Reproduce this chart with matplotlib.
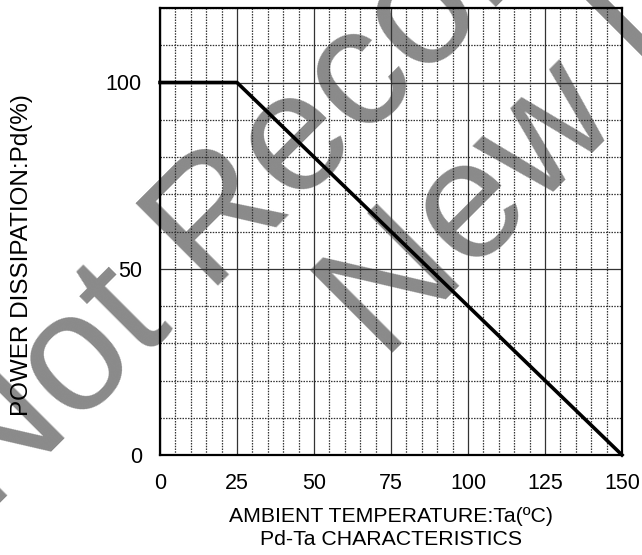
import numpy as np
import matplotlib
matplotlib.use('Agg')
import matplotlib.pyplot as plt
from matplotlib.ticker import MultipleLocator

plt.rcParams['font.family'] = ['Liberation Sans', 'DejaVu Sans']

# derating curve
ta = [0, 25, 150]
pd_pct = [100, 100, 0]

x_ticks = [0, 25, 50, 75, 100, 125, 150]
y_ticks = [0, 50, 100]

fig = plt.figure(figsize=(6.42, 5.55), dpi=100)
ax = fig.add_axes([160 / 642, 1 - 455 / 555, 462 / 642, 447 / 555])

ax.set_xlim(0, 150)
ax.set_ylim(0, 120)
ax.set_xticks(x_ticks)
ax.set_yticks(y_ticks)
ax.xaxis.set_minor_locator(MultipleLocator(5))
ax.yaxis.set_minor_locator(MultipleLocator(10))
ax.tick_params(which='both', length=0)
ax.tick_params(axis='x', pad=13, labelsize=15.5)
ax.tick_params(axis='y', pad=13, labelsize=15.5)

ax.grid(which='major', color='#333333', linestyle='-', linewidth=0.9)
ax.grid(which='minor', color='#333333', linestyle=(0, (1.2, 1.0)), linewidth=0.9)

for s in ax.spines.values():
    s.set_linewidth(1.6)
    s.set_color('black')

ax.plot(ta, pd_pct, color='black', linewidth=2.6, zorder=3, clip_on=False)

ax.set_ylabel('POWER DISSIPATION:Pd(%)', fontsize=17.5)
ax.yaxis.set_label_coords(-0.275, 0.447)
ax.set_xlabel('AMBIENT TEMPERATURE:Ta(ºC)\nPd-Ta CHARACTERISTICS', fontsize=15.3, linespacing=1.28)
ax.xaxis.set_label_coords(0.5, -0.116)

# watermark
wm = dict(fontsize=122, color='#8a8a8a', rotation=45, rotation_mode='anchor',
          ha='left', va='baseline', transform=fig.transFigure, clip_on=False, zorder=1)
ax.text(-11 / 642, 1 - 515 / 555, 'Not Recommended for', **wm)
ax.text(383 / 642, 1 - 362 / 555, 'New Designs', **wm)

fig.savefig('out.png', dpi=100)
